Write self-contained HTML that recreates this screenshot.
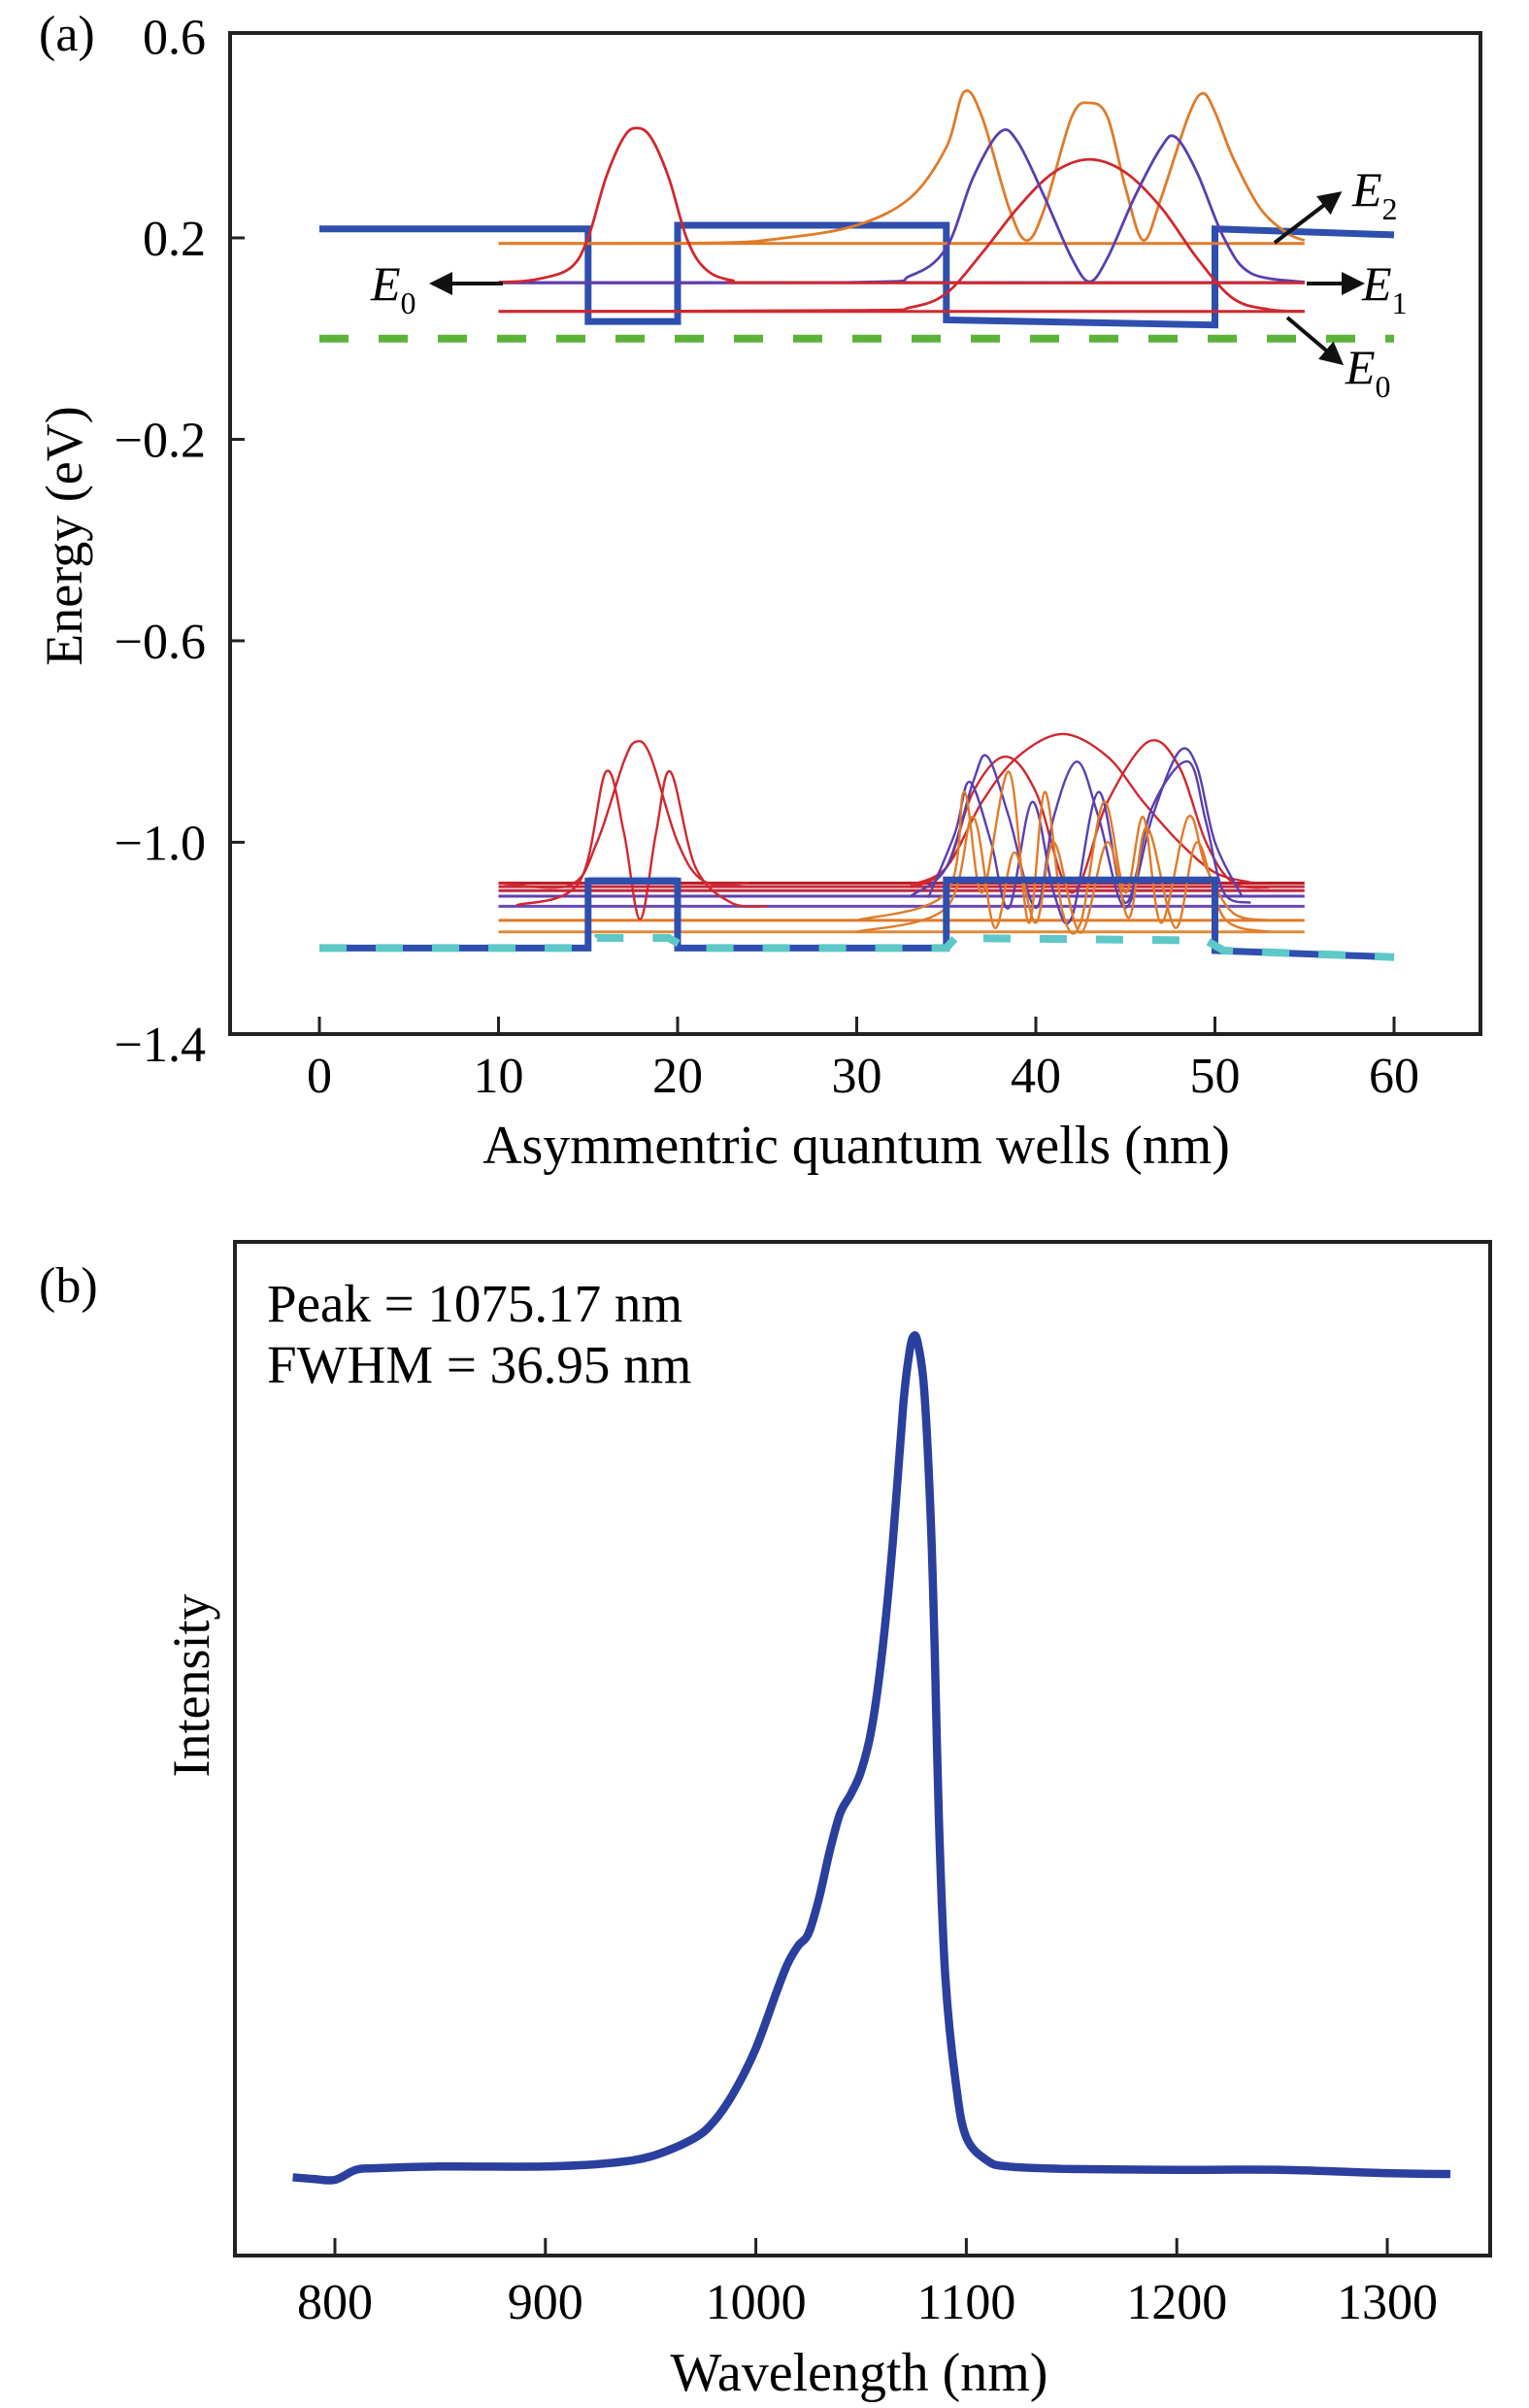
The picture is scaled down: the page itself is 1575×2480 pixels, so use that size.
<!DOCTYPE html>
<html><head><meta charset="utf-8">
<style>
html,body{margin:0;padding:0;background:#fff;}
svg{display:block;font-family:"Liberation Serif",serif;}
</style></head>
<body>
<svg id="fig" width="1575" height="2480" viewBox="0 0 1575 2480" xmlns="http://www.w3.org/2000/svg">
<g id="pa"></g>
<g id="pb"></g>
</svg>
<script>
// ---------- Panel (a) data ----------
const aXTicks = [0,10,20,30,40,50,60];
const aYTicks = [0.6,0.2,-0.2,-0.6,-1.0,-1.4];
const aYTickLabels = ["0.6","0.2","\u22120.2","\u22120.6","\u22121.0","\u22121.4"];
const cbProfile = [[0,0.218],[15,0.218],[15,0.034],[20,0.034],[20,0.225],[35,0.225],[35,0.037],[50,0.027],[50,0.218],[60,0.206]];
const vbProfile = [[0,-1.210],[15,-1.210],[15,-1.077],[20,-1.077],[20,-1.210],[35,-1.210],[35,-1.075],[50,-1.075],[50,-1.215],[60,-1.228]];
const vbDashed = [[0,-1.210],[15,-1.210],[15.5,-1.19],[19.5,-1.19],[20.5,-1.21],[35,-1.21],[35.5,-1.19],[49.5,-1.195],[50.5,-1.215],[60,-1.228]];
const fermiLevel = 0.0;
const cLevels = [0.189,0.111,0.111,0.054];
const cLevelColors = ["#e07b2a","#c8283a","#5a3fb0","#d0282e"];
const vLevels = [-1.081,-1.088,-1.096,-1.107,-1.127,-1.155,-1.178];
const vLevelColors = ["#b8202a","#c8283a","#c02840","#6040b0","#6a48b8","#e07b2a","#e08a3a"];
const cWaveRed1 = [[10,0.112],[12,0.117],[14,0.14],[15,0.2],[16,0.32],[17,0.40],[17.7,0.418],[18.5,0.40],[19.5,0.32],[20.5,0.2],[21.5,0.14],[23,0.116],[26,0.111],[55,0.111]];
const cWaveRed2 = [[10,0.054],[30,0.056],[33,0.062],[35,0.09],[37,0.17],[39,0.26],[41,0.33],[43,0.356],[45,0.33],[47,0.26],[49,0.16],[51,0.08],[53,0.058],[55,0.054]];
const cWavePurple = [[10,0.111],[30,0.112],[33,0.125],[35,0.18],[36.5,0.32],[38,0.41],[39,0.39],[40.5,0.28],[42,0.16],[43,0.113],[44,0.16],[45.5,0.28],[47,0.38],[47.8,0.40],[49,0.33],[50.5,0.2],[52,0.13],[55,0.112]];
const cWaveOrange = [[10,0.189],[22,0.19],[26,0.2],[30,0.225],[33,0.28],[35,0.38],[36,0.49],[37,0.44],[38.5,0.26],[39.5,0.195],[40.5,0.26],[42,0.44],[43,0.468],[44,0.44],[45,0.3],[46,0.195],[47,0.28],[48.5,0.44],[49.3,0.487],[50,0.45],[51,0.36],[52.5,0.26],[54,0.21],[55,0.195]];
const vWaves = [
 {c:"#d0282e",p:[[10,-1.081],[14,-1.085],[15.5,-1.0],[17,-0.84],[17.7,-0.80],[18.5,-0.83],[20,-1.0],[21.5,-1.078],[24,-1.081]]},
 {c:"#d0282e",p:[[11,-1.125],[14.5,-1.08],[16,-0.86],[17,-0.98],[17.9,-1.153],[18.8,-0.98],[19.6,-0.86],[21,-1.05],[23,-1.12],[25,-1.127]]},
 {c:"#d0282e",p:[[33,-1.085],[35,-1.05],[37,-0.92],[39,-0.83],[41.5,-0.785],[44,-0.83],[46,-0.92],[48,-1.0],[50,-1.06],[52,-1.08]]},
 {c:"#d0282e",p:[[33,-1.09],[35,-1.05],[36.5,-0.90],[38.3,-0.83],[40,-0.9],[42,-1.1],[44,-0.92],[46.3,-0.80],[48,-0.85],[49.5,-1.0],[51,-1.08],[53,-1.09]]},
 {c:"#5a3fb0",p:[[33,-1.107],[35,-1.05],[36.5,-0.88],[37.3,-0.83],[38.5,-0.95],[40,-1.13],[41,-0.95],[42.3,-0.84],[43.5,-0.95],[45,-1.13],[46.5,-0.95],[48,-0.82],[49,-0.85],[50,-1.0],[51.5,-1.107]]},
 {c:"#5a3fb0",p:[[34,-1.11],[35.5,-0.98],[36.3,-0.88],[37.5,-1.0],[38.5,-1.13],[39.8,-0.92],[41,-1.1],[42,-1.15],[43.5,-0.9],[45,-1.12],[46.5,-0.93],[48.5,-0.84],[49.5,-0.96],[50.5,-1.1],[52,-1.12]]},
 {c:"#e07b2a",p:[[30,-1.155],[35,-1.1],[36,-0.90],[37,-1.1],[38.5,-0.86],[39.6,-1.16],[40.5,-0.9],[41.5,-1.14],[42.5,-1.16],[43.8,-0.92],[45,-1.1],[46,-0.95],[47,-1.16],[48.5,-0.95],[49.5,-1.05],[51,-1.14],[53,-1.155]]},
 {c:"#e07b2a",p:[[30,-1.178],[35,-1.13],[36.5,-0.95],[37.7,-1.17],[38.8,-1.02],[40,-1.16],[41,-1.0],[42.5,-1.18],[44,-1.0],[45.2,-1.15],[46.2,-0.97],[47.8,-1.17],[49,-1.0],[50.5,-1.15],[53,-1.178]]}
];

// ---------- Panel (b) data ----------
const bXTicks = [800,900,1000,1100,1200,1300];
const specWl = [780,790,800,810,820,850,900,930,950,970,980,990,1000,1010,1015,1020,1025,1030,1035,1040,1045,1050,1055,1060,1065,1070,1073,1075,1077,1080,1083,1085,1087,1090,1095,1100,1110,1120,1150,1200,1250,1300,1330];
const specI  = [-0.011,-0.013,-0.014,-0.002,0,0.002,0.002,0.006,0.014,0.035,0.056,0.093,0.144,0.213,0.245,0.267,0.282,0.324,0.380,0.426,0.449,0.477,0.528,0.620,0.750,0.917,0.981,1.0,0.991,0.935,0.787,0.620,0.417,0.231,0.102,0.037,0.009,0.002,-0.001,-0.002,-0.002,-0.006,-0.007];

const NS="http://www.w3.org/2000/svg";
function mk(tag,attrs,parent){const e=document.createElementNS(NS,tag);for(const k in attrs)e.setAttribute(k,attrs[k]);parent.appendChild(e);return e;}
function smooth(pts){
 let d="M"+pts[0][0].toFixed(1)+","+pts[0][1].toFixed(1);
 for(let i=0;i<pts.length-1;i++){
  const p0=pts[Math.max(i-1,0)],p1=pts[i],p2=pts[i+1],p3=pts[Math.min(i+2,pts.length-1)];
  const c1=[p1[0]+(p2[0]-p0[0])/6,p1[1]+(p2[1]-p0[1])/6];
  const c2=[p2[0]-(p3[0]-p1[0])/6,p2[1]-(p3[1]-p1[1])/6];
  d+=" C"+c1[0].toFixed(1)+","+c1[1].toFixed(1)+" "+c2[0].toFixed(1)+","+c2[1].toFixed(1)+" "+p2[0].toFixed(1)+","+p2[1].toFixed(1);
 }
 return d;
}
function poly(pts){return "M"+pts.map(p=>p[0].toFixed(1)+","+p[1].toFixed(1)).join(" L");}

// ---------- Draw panel (a) ----------
const pa=document.getElementById('pa');
const ax=n=>329+18.45*n;
const ay=v=>245+(0.2-v)*518.7;
const P=arr=>arr.map(p=>[ax(p[0]),ay(p[1])]);

let t;
t=mk('text',{x:40,y:52,'font-size':52},pa);t.textContent="(a)";



let el;
el=mk('path',{d:poly(P(cbProfile)),fill:'none',stroke:'#2e4fad','stroke-width':7},pa);


el=mk('line',{x1:ax(0),x2:ax(60),y1:ay(fermiLevel),y2:ay(fermiLevel),stroke:'#5bb33a','stroke-width':8,'stroke-dasharray':'30 31'},pa);



cLevels.forEach((v,i)=>{
 const l=mk('line',{x1:ax(10),x2:ax(55),y1:ay(v),y2:ay(v),stroke:cLevelColors[i],'stroke-width':3},pa);
 
 
});
[[cWaveOrange,"#e07b2a"],[cWaveRed2,"#d0282e"],[cWavePurple,"#5a3fb0"],[cWaveRed1,"#d0282e"]].forEach(w=>{
 const l=mk('path',{d:smooth(P(w[0])),fill:'none',stroke:w[1],'stroke-width':2.8},pa);
 
 
});

// valence
el=mk('rect',{x:ax(15),y:ay(-1.068),width:ax(20)-ax(15),height:8,fill:'#8c9be0',opacity:0.6},pa);


vLevels.forEach((v,i)=>{
 const l=mk('line',{x1:ax(10),x2:ax(55),y1:ay(v),y2:ay(v),stroke:vLevelColors[i],'stroke-width':3},pa);
 
 
});
vWaves.forEach(w=>{
 const l=mk('path',{d:smooth(P(w.p)),fill:'none',stroke:w.c,'stroke-width':2.4,'stroke-linejoin':'round'},pa);
 
 
});
el=mk('path',{d:poly(P(vbProfile)),fill:'none',stroke:'#2e4fad','stroke-width':7},pa);


el=mk('path',{d:poly(P(vbDashed)),fill:'none',stroke:'#5ec8c8','stroke-width':8,'stroke-dasharray':'28 30'},pa);



// arrows
const arrows=[[518,292,450,292],[1313,250,1376,202],[1346,292,1398,292],[1326,327,1378,371]];
mk('defs',{},pa).innerHTML='<marker id="ah" markerWidth="6" markerHeight="6" refX="4" refY="3" orient="auto"><path d="M0,0 L6,3 L0,6 Z" fill="#111"/></marker>';
arrows.forEach(a=>{
 const l=mk('line',{x1:a[0],y1:a[1],x2:a[2],y2:a[3],stroke:'#111','stroke-width':4,'marker-end':'url(#ah)'},pa);
 
 
});
const elabels=[[382,309,"0"],[1393,212,"2"],[1403,309,"1"],[1386,395,"0"]];
elabels.forEach(e=>{
 const g=mk('text',{x:e[0],y:e[1],'font-size':50,'font-style':'italic'},pa);
 g.innerHTML='E<tspan font-style="normal" font-size="32" dy="14">'+e[2]+'</tspan>';
 
 
});

// frame, ticks
el=mk('rect',{x:237,y:34,width:1288,height:1031,fill:'none',stroke:'#222','stroke-width':4},pa);


aXTicks.forEach(v=>{
 const l=mk('line',{x1:ax(v),x2:ax(v),y1:1065,y2:1047,stroke:'#222','stroke-width':3},pa);
 
 
 const tx=mk('text',{x:ax(v),y:1125,'font-size':52,'text-anchor':'middle'},pa);tx.textContent=v;
 
 
});
aYTicks.forEach((v,i)=>{
 if(i>0&&i<aYTicks.length-1){const l=mk('line',{x1:237,x2:252,y1:ay(v),y2:ay(v),stroke:'#222','stroke-width':3},pa);
 
 }
 const tx=mk('text',{x:212,y:ay(v)+18,'font-size':52,'text-anchor':'end'},pa);tx.textContent=aYTickLabels[i];
 
 
});
t=mk('text',{x:882,y:1198,'font-size':56,'text-anchor':'middle'},pa);t.textContent="Asymmentric quantum wells (nm)";


t=mk('text',{x:0,y:0,'font-size':54,'text-anchor':'middle',transform:'translate(84,552) rotate(-90)'},pa);t.textContent="Energy (eV)";



// ---------- Draw panel (b) ----------
const pb=document.getElementById('pb');
const bx=w=>345+(w-800)*2.168;
const by=i=>2233-i*857;
t=mk('text',{x:40,y:1341,'font-size':52},pb);t.textContent="(b)";


const spts=specWl.map((w,i)=>[bx(w),by(specI[i])]);
el=mk('path',{d:smooth(spts),fill:'none',stroke:'#2a3f9e','stroke-width':8.5,'stroke-linejoin':'round'},pb);


el=mk('rect',{x:242,y:1279,width:1293,height:1044,fill:'none',stroke:'#222','stroke-width':4},pb);


bXTicks.forEach(v=>{
 const l=mk('line',{x1:bx(v),x2:bx(v),y1:2323,y2:2305,stroke:'#222','stroke-width':3},pb);
 
 
 const tx=mk('text',{x:bx(v),y:2388,'font-size':52,'text-anchor':'middle'},pb);tx.textContent=v;
 
 
});
t=mk('text',{x:275,y:1361,'font-size':55},pb);t.textContent="Peak = 1075.17 nm";


t=mk('text',{x:275,y:1424,'font-size':55},pb);t.textContent="FWHM = 36.95 nm";


t=mk('text',{x:885,y:2462,'font-size':56,'text-anchor':'middle'},pb);t.textContent="Wavelength (nm)";


t=mk('text',{x:0,y:0,'font-size':54,'text-anchor':'middle',transform:'translate(215,1736) rotate(-90)'},pb);t.textContent="Intensity";


</script>
</body></html>
